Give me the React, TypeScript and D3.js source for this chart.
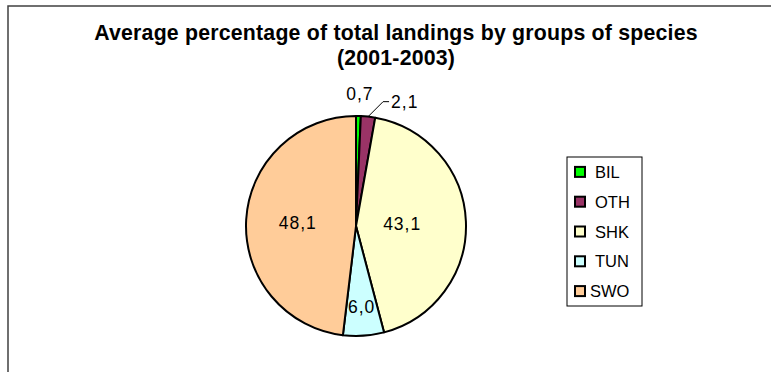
import React from "react";
import * as d3 from "d3";

const categories = ["BIL", "OTH", "SHK", "TUN", "SWO"];
const values = [0.7, 2.1, 43.1, 6.0, 48.1];
const labels = ["0,7", "2,1", "43,1", "6,0", "48,1"];
const colors = ["#00FF00", "#993366", "#FFFFCC", "#CCFFFF", "#FFCC99"];
const labelRadius = [1.2, 1.2, 0.42, 0.74, 0.53];
const titleLines = ["Average percentage of total landings by groups of species", "(2001-2003)"];

export default function App() {
  const W = 771, H = 372;
  const cx = 356, cy = 226, r = 110;
  const pie = d3.pie<number>().sort(null).value((d) => d)(values);
  const arc = d3.arc<d3.PieArcDatum<number>>().innerRadius(0).outerRadius(r);
  const font = "'Liberation Sans', Arial, sans-serif";
  const legendY = d3.scaleBand<string>().domain(categories).range([157, 306]).paddingOuter(0.0);

  return (
    <svg width={W} height={H} style={{ position: "absolute", left: 0, top: 0 }} fontFamily={font}>
      <rect x={0} y={0} width={W} height={H} fill="#fff" />
      <rect x={8} y={6} width={800} height={400} fill="#fff" stroke="#404040" strokeWidth={1.5} />
      {titleLines.map((t, i) => (
        <text key={i} x={396} y={40 + i * 25} textAnchor="middle" fontWeight="bold" fontSize={21.3} letterSpacing={0.2} fill="#000">
          {t}
        </text>
      ))}
      <g transform={`translate(${cx},${cy})`}>
        {pie.map((p, i) => (
          <path key={i} d={arc(p) || ""} fill={colors[i]} stroke="#000" strokeWidth={2} strokeLinejoin="round" />
        ))}
        {pie.map((p, i) => {
          const a = (p.startAngle + p.endAngle) / 2;
          const lr = labelRadius[i] * r;
          let x = lr * Math.sin(a);
          const y = -lr * Math.cos(a);
          if (i === 1) {
            const ex = r * Math.sin(a), ey = -r * Math.cos(a);
            const ly = ey - 15;
            const lx = ex + 15;
            return (
              <g key={i}>
                <polyline points={`${ex},${ey} ${lx},${ly} ${lx + 6},${ly}`} fill="none" stroke="#000" strokeWidth={1} />
                <text x={lx + 8} y={ly + 6} textAnchor="start" fontSize={17.5} letterSpacing={1}>{labels[i]}</text>
              </g>
            );
          }
          if (i === 0) x = x + 1;
          return (
            <text key={i} x={x} y={y + 6} textAnchor="middle" fontSize={17.5} letterSpacing={1}>
              {labels[i]}
            </text>
          );
        })}
      </g>
      <rect x={567} y={157} width={75} height={149} fill="#fff" stroke="#000" strokeWidth={1} />
      {categories.map((c, i) => {
        const yc = (legendY(c) as number) + legendY.bandwidth() / 2;
        return (
          <g key={c}>
            <rect x={575} y={yc - 5} width={10} height={10} fill={colors[i]} stroke="#000" strokeWidth={2} />
            <text x={c === "SWO" ? 590 : 595} y={yc + 6} fontSize={16.5}>{c}</text>
          </g>
        );
      })}
    </svg>
  );
}
